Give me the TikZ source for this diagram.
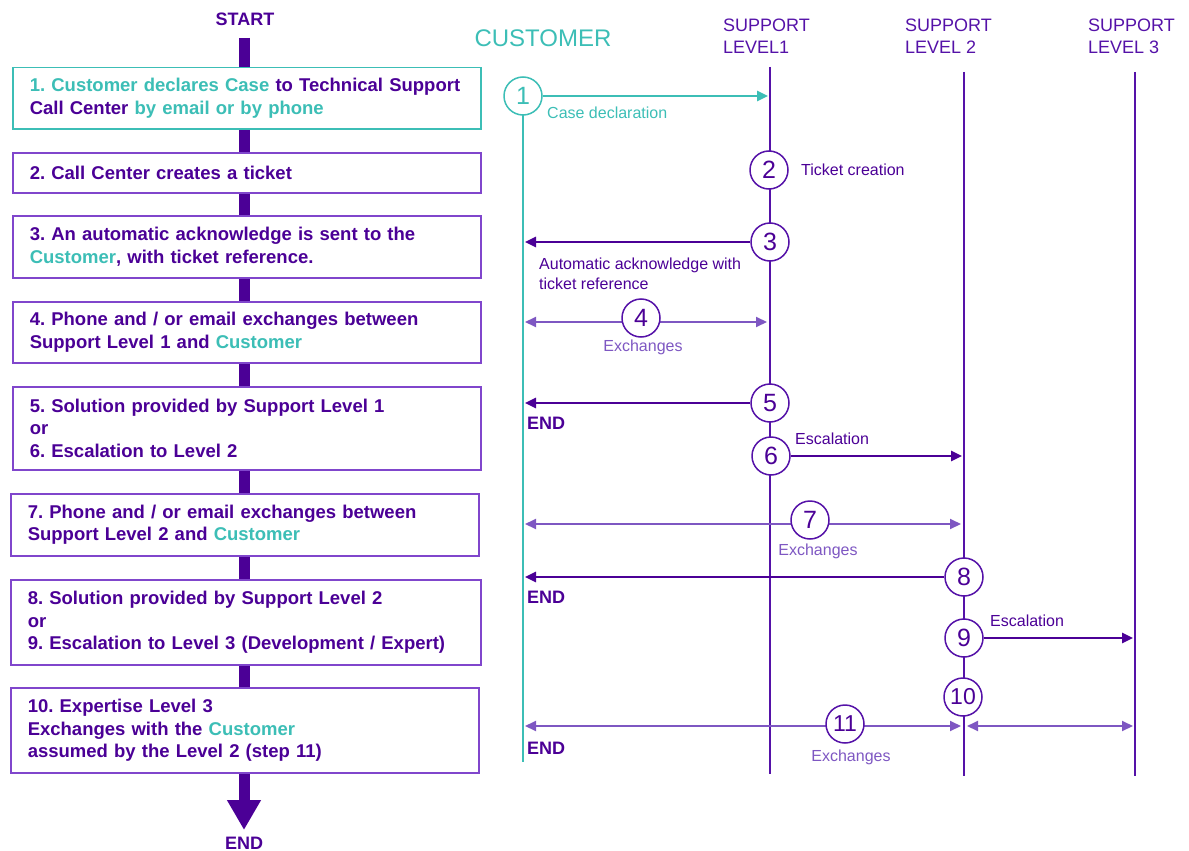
\documentclass[tikz,border=0pt]{standalone}
\usepackage{fontspec}
\setmainfont{Liberation Sans}
\usetikzlibrary{arrows.meta}
\definecolor{dkp}{RGB}{75,0,150}
\definecolor{lnp}{RGB}{85,18,168}
\definecolor{bxp}{RGB}{128,70,204}
\definecolor{ltp}{RGB}{126,87,194}
\definecolor{tl}{RGB}{60,190,182}
\newcommand{\bxline}[1]{\mbox{#1}}
\newcommand{\tc}[1]{\textcolor{tl}{#1}}
\frenchspacing
\begin{document}
\begin{tikzpicture}[x=1pt,y=-1pt,
  stepbox/.style={draw=bxp, line width=1.5pt, fill=white, anchor=north west,
    text width=434pt, inner xsep=17pt, inner ysep=0pt, align=left, text=dkp,
    font=\fontsize{18.5}{22.5}\selectfont\bfseries},
  circ/.style={circle, draw=lnp, line width=1.5pt, fill=white, minimum size=38pt,
    inner sep=0pt, text=dkp, font=\fontsize{25}{25}\selectfont},
  circtwo/.style={circ, font=\fontsize{23}{23}\selectfont},
  lbl/.style={inner sep=0pt, font=\fontsize{16}{20}\selectfont, text=dkp},
  xlbl/.style={lbl, text=ltp},
  endlbl/.style={inner sep=0pt, anchor=west, text=dkp, font=\fontsize{18}{18}\selectfont\bfseries},
  head/.style={inner sep=0pt, anchor=west, align=left, text=lnp, font=\fontsize{18}{22}\selectfont},
  life/.style={lnp, line width=2pt},
  msg/.style={dkp, line width=2.5pt, -{Triangle[length=11pt,width=10pt]}},
  xmsg/.style={ltp, line width=2pt, {Triangle[length=11pt,width=10pt]}-{Triangle[length=11pt,width=10pt]}}
]
\useasboundingbox (0,0) rectangle (1189,851);

% ---- left flow ----
\node[inner sep=0pt, text=dkp, font=\fontsize{18}{18}\selectfont\bfseries] (start) at (245,19) {START};
\node[inner sep=0pt, text=dkp, font=\fontsize{18}{18}\selectfont\bfseries] (endb) at (244,843) {END};
\coordinate (bartop) at (244,38);
\coordinate (bartip) at (244,830);
\draw[dkp, line width=11pt, -{Triangle[length=30pt,width=32pt]}] (bartop) -- (bartip);

\node[stepbox, draw=tl, minimum height=61pt] (b1) at (12,67)
  {\bxline{\tc{1. Customer declares Case} to Technical Support}\\\bxline{Call Center \tc{by email or by phone}}};
\node[stepbox, minimum height=40pt] (b2) at (12,152)
  {\bxline{2. Call Center creates a ticket}};
\node[stepbox, minimum height=62pt] (b3) at (12,215)
  {\bxline{3. An automatic acknowledge is sent to the}\\\bxline{\tc{Customer}, with ticket reference.}};
\node[stepbox, minimum height=61pt] (b4) at (12,301)
  {\bxline{4. Phone and / or email exchanges between}\\\bxline{Support Level 1 and \tc{Customer}}};
\node[stepbox, minimum height=83pt] (b5) at (12,386)
  {\bxline{5. Solution provided by Support Level 1}\\or\\\bxline{6. Escalation to Level 2}};
\node[stepbox, minimum height=62pt] (b7) at (10,493)
  {\bxline{7. Phone and / or email exchanges between}\\\bxline{Support Level 2 and \tc{Customer}}};
\node[stepbox, minimum height=85pt, text width=436pt] (b8) at (10,579)
  {\bxline{8. Solution provided by Support Level 2}\\or\\\bxline{9. Escalation to Level 3 (Development / Expert)}};
\node[stepbox, minimum height=85pt] (b10) at (10,687)
  {\bxline{10. Expertise Level 3}\\\bxline{Exchanges with the \tc{Customer}}\\\bxline{assumed by the Level 2 (step 11)}};

% ---- headers ----
\node[inner sep=0pt, text=tl, font=\fontsize{24}{24}\selectfont] (hcust) at (543,38) {CUSTOMER};
\node[head] (hl1) at (723,36) {SUPPORT\\LEVEL1};
\node[head] (hl2) at (905,36) {SUPPORT\\LEVEL 2};
\node[head] (hl3) at (1088,36) {SUPPORT\\LEVEL 3};

% ---- lifelines ----
\coordinate (ctop) at (523,110);
\coordinate (cbot) at (523,762);
\coordinate (l1top) at (770,67);
\coordinate (l1bot) at (770,774);
\coordinate (l2top) at (964,72);
\coordinate (l2bot) at (964,776);
\coordinate (l3top) at (1135,72);
\coordinate (l3bot) at (1135,776);
\draw[tl, line width=2.5pt] (ctop) -- (cbot);
\draw[life] (l1top) -- (l1bot);
\draw[life] (l2top) -- (l2bot);
\draw[life] (l3top) -- (l3bot);

% tip x positions
\coordinate (C) at (525,0);
\coordinate (L1) at (768,0);
\coordinate (L2) at (962,0);
\coordinate (L3) at (1133,0);

% ---- double arrows (exchanges) ----
\coordinate (c4) at (525,322);
\coordinate (e4) at (767,322);
\draw[xmsg] (c4) -- (e4);
\coordinate (c7) at (525,524);
\coordinate (e7) at (961,524);
\draw[xmsg] (c7) -- (e7);
\coordinate (c11) at (525,726);
\coordinate (e11) at (961,726);
\draw[xmsg] (c11) -- (e11);
\coordinate (f11) at (967,726);
\coordinate (g11) at (1133,726);
\draw[xmsg] (f11) -- (g11);

% ---- circles ----
\node[circ, draw=tl, text=tl] (n1) at (523,96) {1};
\node[circ] (n2) at (769,170) {2};
\node[circ] (n3) at (770,242) {3};
\node[circ] (n4) at (641,318) {4};
\node[circ] (n5) at (770,403) {5};
\node[circ] (n6) at (771,456) {6};
\node[circ] (n7) at (810,520) {7};
\node[circ] (n8) at (964,577) {8};
\node[circ] (n9) at (964,638) {9};
\node[circtwo] (n10) at (963,697) {10};
\node[circtwo] (n11) at (845,724) {11};

% ---- single arrows ----
\draw[msg, tl] (n1.east) -- (n1.east -| L1);
\draw[msg] (n3.west) -- (n3.west -| C);
\draw[msg] (n5.west) -- (n5.west -| C);
\draw[msg] (n6.east) -- (n6.east -| L2);
\draw[msg] (n8.west) -- (n8.west -| C);
\draw[msg] (n9.east) -- (n9.east -| L3);

% ---- labels ----
\node[lbl, text=tl, anchor=west] (t1) at (547,113) {Case declaration};
\node[lbl, anchor=west] (t2) at (801,170) {Ticket creation};
\node[lbl, anchor=west, align=left] (t3) at (539,274) {Automatic acknowledge with\\ticket reference};
\node[xlbl] (t4) at (643,347) {Exchanges};
\node[endlbl] (end5) at (527,423) {END};
\node[lbl, anchor=west] (t6) at (795,439) {Escalation};
\node[xlbl] (t7) at (818,551) {Exchanges};
\node[endlbl] (end8) at (527,597) {END};
\node[lbl, anchor=west] (t9) at (990,621) {Escalation};
\node[endlbl] (end11) at (527,748) {END};
\node[xlbl] (t11) at (851,757) {Exchanges};
\end{tikzpicture}
\end{document}
